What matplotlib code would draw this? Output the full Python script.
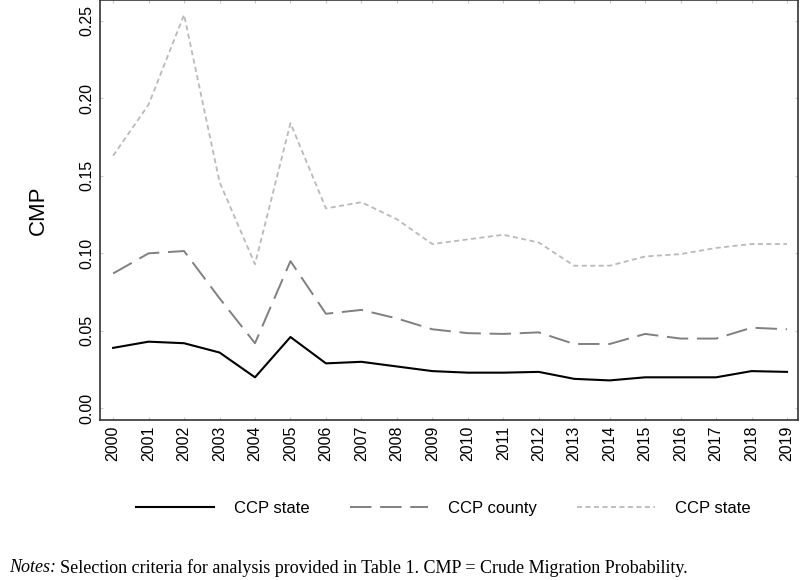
import numpy as np
import matplotlib.pyplot as plt

years = list(range(2000, 2020))

ccp_state = [0.039, 0.043, 0.042, 0.036, 0.020, 0.046, 0.029, 0.030, 0.027, 0.024,
             0.023, 0.023, 0.0235, 0.019, 0.018, 0.020, 0.020, 0.020, 0.024, 0.0235]
ccp_county = [0.087, 0.100, 0.1015, 0.071, 0.042, 0.095, 0.061, 0.0635, 0.058, 0.051,
              0.0485, 0.048, 0.049, 0.0415, 0.0415, 0.048, 0.045, 0.045, 0.052, 0.051]
ccp_state2 = [0.163, 0.196, 0.254, 0.146, 0.093, 0.184, 0.129, 0.133, 0.122, 0.106,
              0.109, 0.112, 0.107, 0.092, 0.092, 0.098, 0.0995, 0.1035, 0.106, 0.106]

series_labels = ['CCP state', 'CCP county', 'CCP state']
y_ticks = [0.00, 0.05, 0.10, 0.15, 0.20, 0.25]

plt.rcParams['font.family'] = ['Liberation Sans', 'DejaVu Sans']

fig = plt.figure(figsize=(8, 5.8), dpi=100)
ax = fig.add_axes([0.125, 0.276, 0.8725, 0.724])

ax.plot(years, ccp_state, color='black', lw=1.5, label=series_labels[0])
ax.plot(years, ccp_county, color='#808080', lw=1.4, dashes=(11, 4.5),
        label=series_labels[1])
ax.plot(years, ccp_state2, color='#bababa', lw=1.3, dashes=(2.8, 1.9),
        label=series_labels[2])

ax.set_xlim(1999.63, 2019.31)
ax.set_ylim(-0.0075, 0.2635)
ax.set_xticks(years)
ax.set_xticklabels([str(y) for y in years], rotation=90, fontsize=11.5)
ax.set_yticks(y_ticks)
ax.set_yticklabels([f'{v:.2f}' for v in y_ticks], rotation=90, va='center',
                   fontsize=11.5)
ax.tick_params(axis='both', which='both', direction='in', length=2.5,
               color='#c8c8c8', top=True, right=True, pad=4)
for s in ax.spines.values():
    s.set_color('#333333')
    s.set_linewidth(1.2)

ax.set_ylabel('CMP', fontsize=16, labelpad=22)

fig.legend(loc='center', bbox_to_anchor=(0.554, 0.124), ncol=3, frameon=False,
           fontsize=12, handlelength=4.7, columnspacing=2.4, handletextpad=1.2)

fig.text(0.012, 0.021, 'Notes:', fontsize=13, family='Liberation Serif',
         style='italic', ha='left', va='center')
fig.text(0.075, 0.021,
         'Selection criteria for analysis provided in Table 1. CMP = Crude Migration Probability.',
         fontsize=13, family='Liberation Serif', ha='left', va='center')

fig.savefig('out.png', dpi=100)
